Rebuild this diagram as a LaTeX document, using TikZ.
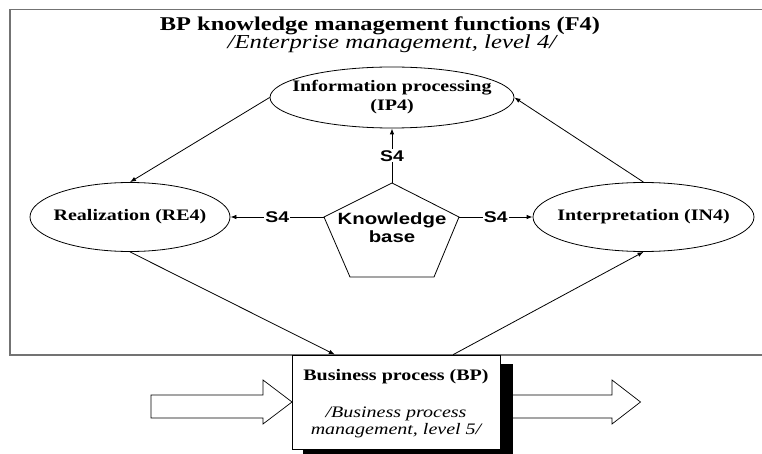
\documentclass[tikz,border=0pt]{standalone}
\usepackage{fontspec}
\usetikzlibrary{shapes.geometric,arrows.meta,calc}
\newfontfamily\dserif[FakeStretch=1.25]{Liberation Serif}
\newfontfamily\dsans[FakeStretch=1.25]{Liberation Sans}
\definecolor{framegray}{RGB}{115,115,115}
\tikzset{
  ell/.style={draw, ellipse, line width=0.8pt, inner sep=0pt},
  etext/.style={align=center, inner sep=0pt, font=\dserif\bfseries\fontsize{16}{19}\selectfont},
  con/.style={line width=0.8pt, -{Latex[length=6pt,width=4.5pt]}},
  slab/.style={fill=white, inner sep=1.2pt, font=\dsans\bfseries\fontsize{15.5}{17}\selectfont},
  bigarrow/.style={draw, fill=white, line width=0.7pt},
}
\begin{document}
\begin{tikzpicture}[x=1pt,y=-1pt]
\useasboundingbox (0,0) rectangle (762,454);
\fill[white] (0,0) rectangle (762,454);
% outer frame
\draw[framegray, line width=1.6pt] (763,9.5) -- (10,9.5) -- (10,355) -- (763,355);
% titles
\node[anchor=base, inner sep=0pt, font=\dserif\bfseries\fontsize{19.5}{22}\selectfont] (title) at (380,30.5) {BP knowledge management functions (F4)};
\node[anchor=base, inner sep=0pt, font=\dserif\itshape\fontsize{19.8}{22}\selectfont] (subtitle) at (392,48.5) {/Enterprise management, level 4/};
% ellipses
\node[ell, minimum width=244pt, minimum height=61pt] (ip) at (392,97.5) {};
\node[etext] at (ip) {Information processing\\(IP4)};
\node[ell, minimum width=200pt, minimum height=69pt] (re) at (130,217) {};
\node[etext] at (re) {Realization (RE4)};
\node[ell, minimum width=221pt, minimum height=69pt] (in) at (643.5,217) {};
\node[etext] at (in) {Interpretation (IN4)};
% knowledge base pentagon
\coordinate (kt) at (392,183);
\coordinate (kl) at (324,217);
\coordinate (kr) at (459,217);
\coordinate (kbl) at (350,277);
\coordinate (kbr) at (434,277);
\draw[line width=0.8pt] (kt) -- (kr) -- (kbr) -- (kbl) -- (kl) -- cycle;
\node[align=center, inner sep=0pt, font=\dsans\bfseries\fontsize{16.3}{18}\selectfont] (kb) at (392,228) {Knowledge\\base};
% S4 connectors
\draw[con] (kl) -- node[slab] {S4} (re.east);
\draw[con] (kr) -- node[slab] {S4} (in.west);
\draw[con] (kt) -- node[slab] {S4} (ip.south);
% business process box
\fill[black] (303,364) rectangle (513,458);
\node[draw, fill=white, line width=0.8pt, minimum width=208pt, minimum height=94pt, inner sep=0pt] (bp) at (396,402) {};
\node[anchor=base, inner sep=0pt, font=\dserif\bfseries\fontsize{16}{19}\selectfont] (bpt) at (396,380) {Business process (BP)};
\node[align=center, inner sep=0pt, font=\dserif\itshape\fontsize{16}{17}\selectfont] (bps) at (396,422) {/Business process\\management, level 5/};
% cycle connectors
\draw[con] (ip.west) -- (re.north);
\draw[con] (in.north) -- (ip.east);
\draw[con] (re.south) -- ($(bp.north west)!0.207!(bp.north east)$);
\draw[con] ($(bp.north west)!0.774!(bp.north east)$) -- (in.south);
% big block arrows
\draw[bigarrow] (151,395) -- (263,395) -- (263,380) -- (292,402) -- (263,424) -- (263,418) -- (151,418) -- cycle;
\draw[bigarrow] (513,395) -- (612,395) -- (612,380) -- (640.5,402) -- (612,424) -- (612,418) -- (513,418);
\end{tikzpicture}
\end{document}
